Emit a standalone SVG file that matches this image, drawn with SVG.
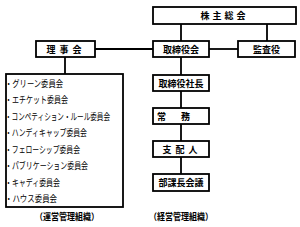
<svg xmlns="http://www.w3.org/2000/svg" width="300" height="227" viewBox="0 0 300 227">
<style>
.box{fill:#fff;stroke:#000;stroke-width:1.8}
.ln{stroke:#000;stroke-width:1.8;fill:none}
.t{font-family:"Noto Sans CJK JP","Noto Sans",sans-serif;font-weight:bold;font-size:9px;text-anchor:middle;fill:#000}
.li{font-family:"Noto Sans CJK JP","Noto Sans",sans-serif;font-size:9.5px;fill:#000}
</style>
<rect width="300" height="227" fill="#fff"/>
<g id="connectors">
<line class="ln" x1="181" y1="24" x2="181" y2="41"/>
<line class="ln" x1="267" y1="24" x2="267" y2="41"/>
<line class="ln" x1="95" y1="49" x2="153" y2="49"/>
<line class="ln" x1="209" y1="49" x2="238" y2="49"/>
<line class="ln" x1="65" y1="57" x2="65" y2="74"/>
<line class="ln" x1="181" y1="57" x2="181" y2="75"/>
<line class="ln" x1="181" y1="91" x2="181" y2="108"/>
<line class="ln" x1="181" y1="124" x2="181" y2="141"/>
<line class="ln" x1="181" y1="157" x2="181" y2="174"/>
</g>
<g id="kabunushi"><rect class="box" x="153" y="7" width="143" height="17"/><text class="t" x="224.5" y="19" letter-spacing="3">株主総会</text></g>
<g id="rijikai"><rect class="box" x="36" y="41" width="59" height="16"/><text class="t" x="66" y="52.5" letter-spacing="4">理事会</text></g>
<g id="torishimariyakukai"><rect class="box" x="153" y="41" width="56" height="16"/><text class="t" x="181" y="52.5">取締役会</text></g>
<g id="kansayaku"><rect class="box" x="238" y="41" width="57" height="16"/><text class="t" x="266.5" y="52.5">監査役</text></g>
<g id="shacho"><rect class="box" x="153" y="75" width="56" height="16"/><text class="t" x="181" y="86.5">取締役社長</text></g>
<g id="jomu"><rect class="box" x="153" y="108" width="56" height="16"/><text class="t" x="181" y="119.5" letter-spacing="15">常務</text></g>
<g id="shihainin"><rect class="box" x="153" y="141" width="56" height="16"/><text class="t" x="182" y="152.5" letter-spacing="4">支配人</text></g>
<g id="bukacho"><rect class="box" x="153" y="174" width="56" height="17"/><text class="t" x="181" y="186">部課長会議</text></g>
<g id="iinkai"><rect class="box" x="6" y="74" width="117" height="133"/>
<text class="li" x="5" y="86.8" textLength="58" lengthAdjust="spacingAndGlyphs">・グリーン委員会</text>
<text class="li" x="5" y="103.3" textLength="63" lengthAdjust="spacingAndGlyphs">・エチケット委員会</text>
<text class="li" x="5" y="119.8" textLength="105" lengthAdjust="spacingAndGlyphs">・コンペティション・ルール委員会</text>
<text class="li" x="5" y="136.3" textLength="82" lengthAdjust="spacingAndGlyphs">・ハンディキャップ委員会</text>
<text class="li" x="5" y="152.8" textLength="75" lengthAdjust="spacingAndGlyphs">・フェローシップ委員会</text>
<text class="li" x="5" y="169.3" textLength="83" lengthAdjust="spacingAndGlyphs">・パブリケーション委員会</text>
<text class="li" x="5" y="185.8" textLength="55" lengthAdjust="spacingAndGlyphs">・キャディ委員会</text>
<text class="li" x="5" y="202.3" textLength="52" lengthAdjust="spacingAndGlyphs">・ハウス委員会</text>
</g>
<text class="t" x="67" y="220" textLength="64" lengthAdjust="spacingAndGlyphs">（運営管理組織）</text>
<text class="t" x="181" y="219.5" textLength="64" lengthAdjust="spacingAndGlyphs">（経営管理組織）</text>
</svg>
